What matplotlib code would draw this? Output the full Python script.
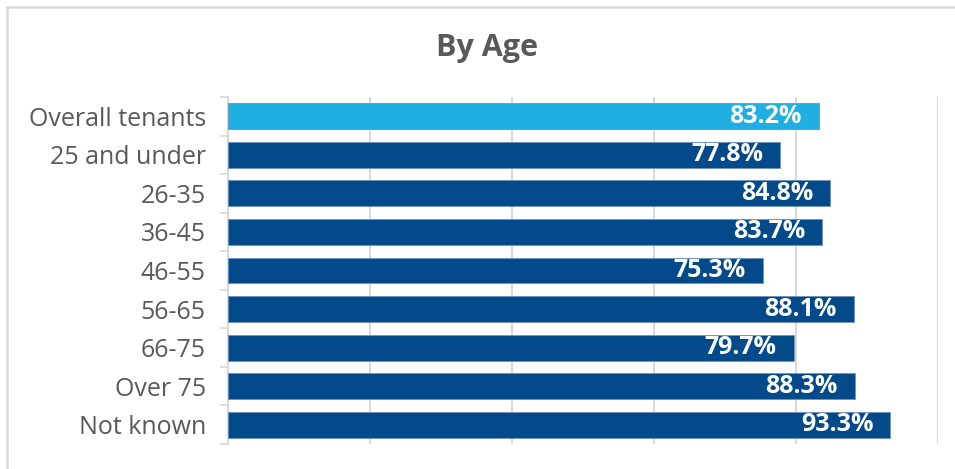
import matplotlib
matplotlib.use("Agg")
import matplotlib.pyplot as plt
from matplotlib.patches import Rectangle
import numpy as np

plt.rcParams['font.family'] = ['Open Sans', 'DejaVu Sans']

title = "By Age"
categories = ["Overall tenants", "25 and under", "26-35", "36-45", "46-55",
              "56-65", "66-75", "Over 75", "Not known"]
values = [83.2, 77.8, 84.8, 83.7, 75.3, 88.1, 79.7, 88.3, 93.3]
highlight = "Overall tenants"

W, H = 955, 469
fig = plt.figure(figsize=(W / 100, H / 100), dpi=100)
fig.patch.set_facecolor("white")

# light frame around the chart area
fig.patches.append(Rectangle((7 / W, -0.1), 1.2, (H - 7) / H + 0.1,
                             transform=fig.transFigure, fill=False,
                             edgecolor="#d9d9d9", linewidth=1.8))

ax = fig.add_axes([228 / W, 1 - 444 / H, (938 - 228) / W, (444 - 97) / H])

light = "#1fafe3"
dark = "#024a8a"
colors = [light if c == highlight else dark for c in categories]
y = np.arange(len(categories))
ax.barh(y, values, height=0.67, color=colors, edgecolor="#6f93bd",
        linewidth=0.6, zorder=3)

for yi, v in zip(y, values):
    ax.text(v - 2.4, yi, f"{v:.1f}%", ha="right", va="center",
            color="white", fontsize=18, fontweight="bold", zorder=4)

ax.set_xlim(0, 100)
ax.set_ylim(len(categories) - 0.5, -0.5)
ax.set_xticks([0, 20, 40, 60, 80, 100])
ax.tick_params(axis="x", length=0, labelbottom=False)
ax.grid(axis="x", color="#d9d9d9", linewidth=1.5, zorder=0)

ax.set_yticks(y)
ax.set_yticklabels(categories, fontsize=18, color="#595959")
ax.set_yticks(np.arange(-0.5, len(categories)), minor=True)
ax.tick_params(axis="y", which="major", length=0, pad=16)
ax.tick_params(axis="y", which="minor", length=6, width=1.2, color="#d9d9d9")

for s in ["top", "right", "bottom"]:
    ax.spines[s].set_visible(False)
ax.spines["left"].set_color("#d9d9d9")
ax.spines["left"].set_linewidth(1.5)

fig.text(487 / W, 1 - 48 / H, title, ha="center", va="center",
         fontsize=22, fontweight="bold", color="#595959")

fig.savefig("out.png", dpi=100, facecolor="white")
